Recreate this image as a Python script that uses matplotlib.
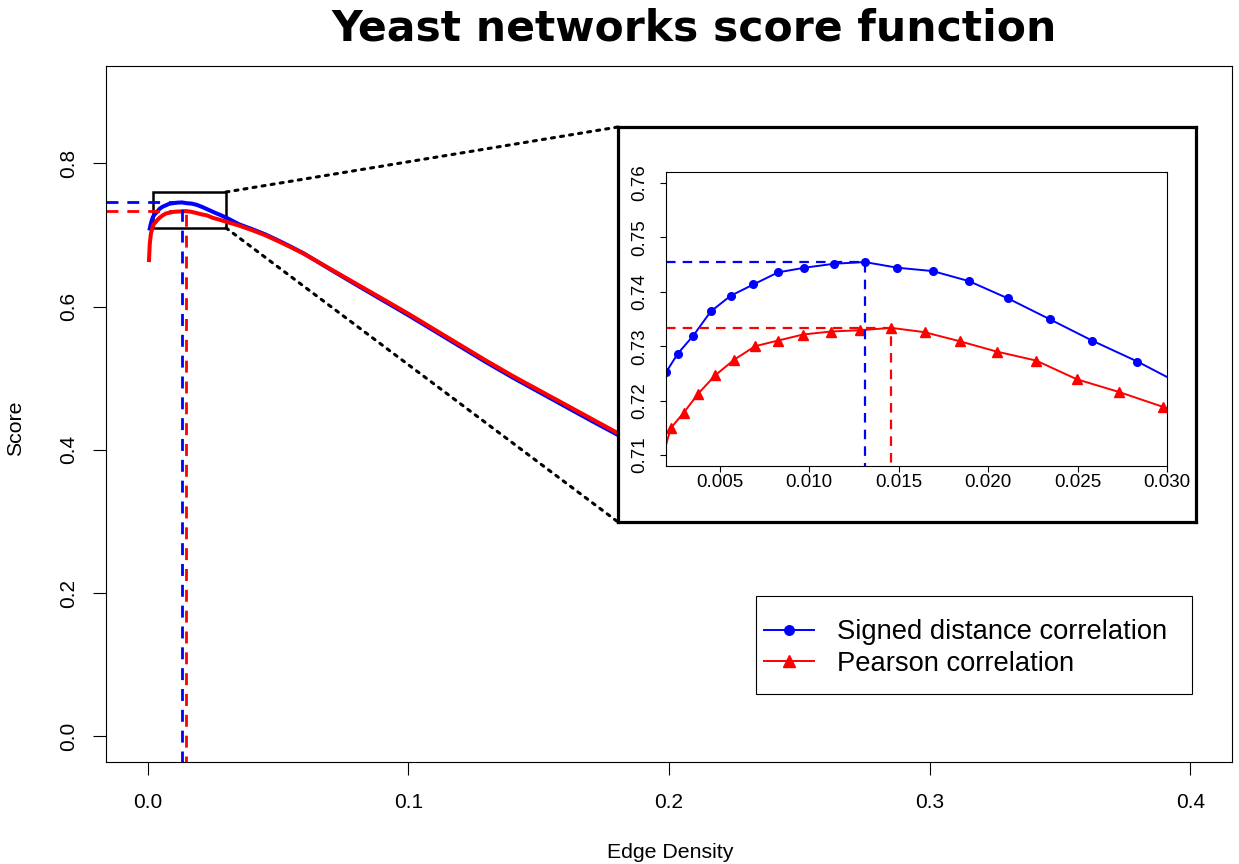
import matplotlib
matplotlib.use("Agg")
import numpy as np
import matplotlib.pyplot as plt
from matplotlib.patches import Rectangle, ConnectionPatch

plt.rcParams['font.family'] = ['Liberation Sans', 'DejaVu Sans']

# ---------------- data ----------------
signed_density = [0.0008, 0.0011, 0.0015, 0.0020, 0.00266, 0.00353, 0.0045, 0.00561,
                  0.00689, 0.00826, 0.00974, 0.0114, 0.01311, 0.01493, 0.01691, 0.01893,
                  0.02112, 0.02344, 0.02581, 0.02835, 0.0309, 0.035, 0.04, 0.045, 0.05,
                  0.055, 0.06, 0.07, 0.08, 0.09, 0.10, 0.11, 0.12, 0.13, 0.14, 0.15,
                  0.16, 0.17, 0.18, 0.19, 0.20]
signed_score = [0.709, 0.714, 0.7195, 0.7252, 0.72865, 0.73196, 0.73638, 0.73926,
                0.74135, 0.74356, 0.74442, 0.74515, 0.74546, 0.74442, 0.7438, 0.74196,
                0.73877, 0.73497, 0.73104, 0.72718, 0.7228, 0.7150, 0.7082, 0.7010, 0.6925,
                0.6835, 0.6740, 0.6520, 0.6305, 0.6092, 0.5880, 0.5660, 0.5440, 0.5220,
                0.5010, 0.4810, 0.4610, 0.4410, 0.4215, 0.4020, 0.3820]

pearson_density = [0.0005, 0.0008, 0.0012, 0.00162, 0.00227, 0.00299, 0.0038, 0.00475,
                   0.00582, 0.00698, 0.00826, 0.00966, 0.01121, 0.01284, 0.0146, 0.01645,
                   0.01841, 0.02048, 0.02269, 0.02496, 0.02731, 0.02975, 0.035, 0.04, 0.045,
                   0.05, 0.055, 0.06, 0.07, 0.08, 0.09, 0.10, 0.11, 0.12, 0.13, 0.14, 0.15,
                   0.16, 0.17, 0.18, 0.19, 0.20]
pearson_score = [0.665, 0.688, 0.701, 0.7075, 0.71497, 0.71779, 0.72129, 0.72466,
                 0.72755, 0.7300, 0.73104, 0.73215, 0.7327, 0.73294, 0.73337, 0.73258,
                 0.73092, 0.72902, 0.72736, 0.72393, 0.7216, 0.71889, 0.7132, 0.7068, 0.6998,
                 0.6915, 0.6828, 0.6736, 0.6527, 0.6318, 0.6110, 0.5900, 0.5680, 0.5461,
                 0.5242, 0.5032, 0.4834, 0.4636, 0.4438, 0.4240, 0.4040, 0.3840]

series_labels = ["Signed distance correlation", "Pearson correlation"]
title = "Yeast networks score function"

main_xticks = [0.0, 0.1, 0.2, 0.3, 0.4]
main_yticks = [0.0, 0.2, 0.4, 0.6, 0.8]
inset_xticks = [0.005, 0.010, 0.015, 0.020, 0.025, 0.030]
inset_yticks = [0.71, 0.72, 0.73, 0.74, 0.75, 0.76]
zoom_x = (0.002, 0.030)
zoom_y = (0.71, 0.76)

# ---------------- layout helpers ----------------
W, H = 1239, 864
def fr(x0, y0, x1, y1):
    return [x0 / W, 1 - y1 / H, (x1 - x0) / W, (y1 - y0) / H]

bi = int(np.argmax(signed_score)); bx, by = signed_density[bi], signed_score[bi]
ri = int(np.argmax(pearson_score)); rx, ry = pearson_density[ri], pearson_score[ri]

fig = plt.figure(figsize=(W / 100, H / 100), dpi=100)

# ---------------- main axes ----------------
ax = fig.add_axes(fr(106, 66, 1232, 762))
xl = (-0.016, 0.416); yl = (-0.036, 0.936)
ax.set_xlim(*xl); ax.set_ylim(*yl)
ax.plot(signed_density, signed_score, color='blue', lw=2.9)
ax.plot(pearson_density, pearson_score, color='red', lw=2.9)
dash = (0, (4.3, 3.2))
ax.plot([xl[0], bx, bx], [by, by, yl[0]], color='blue', lw=2.0, ls=dash)
ax.plot([xl[0], rx, rx], [ry, ry, yl[0]], color='red', lw=2.0, ls=dash)
ax.add_patch(Rectangle((zoom_x[0], zoom_y[0]), zoom_x[1] - zoom_x[0], zoom_y[1] - zoom_y[0],
                       fill=False, ec='black', lw=1.8))
ax.set_xticks(main_xticks)
ax.set_xticklabels([f"{v:.1f}" for v in main_xticks])
ax.set_yticks(main_yticks)
ax.set_yticklabels([f"{v:.1f}" for v in main_yticks], rotation=90, va='center')
ax.tick_params(length=9.5, width=0.8, labelsize=15, colors='black')
ax.tick_params(axis='x', pad=13)
ax.tick_params(axis='y', pad=10.5)
for s in ax.spines.values():
    s.set_linewidth(0.8)

fig.text(670 / W, 1 - 852 / H, "Edge Density", ha='center', va='center', fontsize=15.3)
fig.text(16 / W, 1 - 428 / H, "Score", ha='center', va='center', fontsize=15.3, rotation=90)
fig.text(694 / W, 1 - 28.5 / H, title, ha='center', va='center', fontsize=30.6,
         fontweight='bold', family='DejaVu Sans')

# ---------------- inset ----------------
box = fig.add_axes(fr(618, 127, 1196, 522))
box.set_xticks([]); box.set_yticks([])
box.set_facecolor('white')
for s in box.spines.values():
    s.set_linewidth(2.3)

ins = fig.add_axes(fr(666, 172, 1167, 466))
ins.set_xlim(zoom_x[0], zoom_x[1])
ins.set_ylim(0.708, 0.762)
lb, = ins.plot(signed_density, signed_score, color='blue', lw=1.4, marker='o', ms=5.5)
lr, = ins.plot(pearson_density, pearson_score, color='red', lw=1.4, marker='^', ms=6.5)
ins.plot([zoom_x[0], bx, bx], [by, by, 0.708], color='blue', lw=1.6, ls=dash)
ins.plot([zoom_x[0], rx, rx], [ry, ry, 0.708], color='red', lw=1.6, ls=dash)
ins.set_xticks(inset_xticks)
ins.set_xticklabels([f"{v:.3f}" for v in inset_xticks])
ins.set_yticks(inset_yticks)
ins.set_yticklabels([f"{v:.2f}" for v in inset_yticks], rotation=90, va='center')
ins.tick_params(length=4, width=0.8, labelsize=13.5)
ins.tick_params(axis='x', pad=2)
ins.tick_params(axis='y', pad=9)
for s in ins.spines.values():
    s.set_linewidth(0.8)

# dotted connectors
for ya, yb in [(zoom_y[1], 1.0), (zoom_y[0], 0.0)]:
    con = ConnectionPatch(xyA=(zoom_x[1], ya), coordsA=ax.transData,
                          xyB=(0.0, yb), coordsB=box.transAxes,
                          color='black', lw=2.2, ls=(0, (1, 2)))
    fig.add_artist(con)

# ---------------- legend ----------------
leg = ax.legend([lb, lr], series_labels, loc='center left',
                bbox_to_anchor=(764 / W, 1 - 648 / H), bbox_transform=fig.transFigure,
                frameon=False, borderpad=0, borderaxespad=0, fontsize=19.7,
                handlelength=1.83, handletextpad=0.83, labelspacing=0.2,
                markerscale=1.25)
fig.add_artist(Rectangle((756 / W, 1 - 694 / H), 436 / W, 98 / H, transform=fig.transFigure,
                         fill=False, ec='black', lw=0.8))

fig.savefig("out.png", dpi=100)
